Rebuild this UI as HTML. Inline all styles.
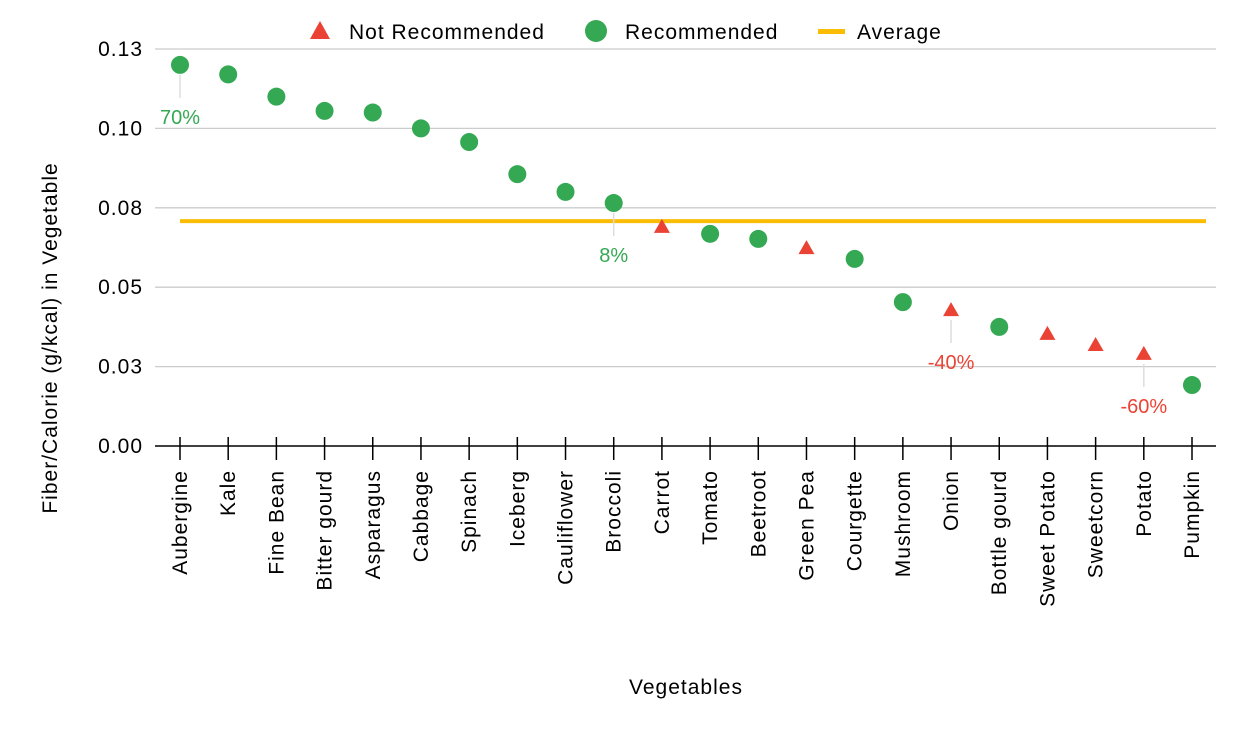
<!DOCTYPE html>
<html><head><meta charset="utf-8"><style>
html,body{margin:0;padding:0;background:#fff;}
svg{display:block;font-family:"Liberation Sans",Arial,sans-serif;}
.w{font-size:21px;letter-spacing:1px;}
</style></head><body>
<svg id="chart" width="1254" height="742" viewBox="0 0 1254 742">
<g id="grid"></g>
<g id="yticks"></g>
<g id="xaxis"></g>
<g id="avg"></g>
<g id="annots"></g>
<g id="marks"></g>
<text class="w" transform="translate(57,338) rotate(-90)" text-anchor="middle" fill="#000">Fiber/Calorie (g/kcal) in Vegetable</text>
<text class="w" x="686" y="694" text-anchor="middle" fill="#000">Vegetables</text>
<g>
 <g><polygon points="320,21 330,39 310,39" fill="#ea4335"/><text class="w" x="349" y="39">Not Recommended</text></g>
 <g><circle cx="596" cy="31" r="11" fill="#34a853"/><text class="w" x="625" y="39">Recommended</text></g>
 <g><rect x="818" y="29" width="27" height="5" fill="#fbbc04"/><text class="w" x="857" y="39">Average</text></g>
</g>
</svg>
<script>
const categories=["Aubergine","Kale","Fine Bean","Bitter gourd","Asparagus","Cabbage","Spinach","Iceberg","Cauliflower","Broccoli","Carrot","Tomato","Beetroot","Green Pea","Courgette","Mushroom","Onion","Bottle gourd","Sweet Potato","Sweetcorn","Potato","Pumpkin"];
const values=[0.120,0.117,0.110,0.1055,0.105,0.100,0.0957,0.0856,0.080,0.0765,0.069,0.0668,0.0652,0.0623,0.0589,0.0453,0.0428,0.0375,0.0353,0.0318,0.029,0.0192];
const recommended=[1,1,1,1,1,1,1,1,1,1,0,1,1,0,1,1,0,1,0,0,0,1];
const average=0.0708;
const yTicks=[0,0.025,0.05,0.075,0.1,0.125];
const yTickLabels=["0.00","0.03","0.05","0.08","0.10","0.13"];
const annotIdx=[0,9,16,20];
const annotLabels=["70%","8%","-40%","-60%"];

const NS="http://www.w3.org/2000/svg";
function mk(t,a,p,txt){const e=document.createElementNS(NS,t);for(const k in a)e.setAttribute(k,a[k]);if(txt!=null)e.textContent=txt;p.appendChild(e);return e;}
const L=155,R=1216,Y0=446,Ytop=49;
const y=v=>Y0-(v/0.125)*(Y0-Ytop);
const x=i=>180+i*(1192-180)/(categories.length-1);
const G=document.getElementById('grid'),YT=document.getElementById('yticks'),XA=document.getElementById('xaxis'),AV=document.getElementById('avg'),AN=document.getElementById('annots'),M=document.getElementById('marks');
yTicks.forEach((t,i)=>{
 if(t>0){const g=mk('line',{x1:L,x2:R,y1:y(t),y2:y(t),stroke:'#ccc','stroke-width':1.3},G);
 
 }
 const lb=mk('text',{x:143,y:y(t)+7,'text-anchor':'end',class:'w',fill:'#000'},YT,yTickLabels[i]);
 
 
});
const ax=mk('line',{x1:L,x2:R,y1:Y0,y2:Y0,stroke:'#000','stroke-width':1.5},XA);


categories.forEach((c,i)=>{
 const tk=mk('line',{x1:x(i),x2:x(i),y1:Y0-9,y2:Y0+14,stroke:'#000','stroke-width':1.5},XA);
 
 
 const lb=mk('text',{transform:`translate(${x(i)+7},470) rotate(-90)`,'text-anchor':'end',class:'w',fill:'#000'},XA,c);
 
 
});
const al=mk('line',{x1:x(0),x2:x(categories.length-1)+14,y1:y(average),y2:y(average),stroke:'#fbbc04','stroke-width':4},AV);


annotIdx.forEach((idx,k)=>{
 const col=recommended[idx]?'#34a853':'#ea4335';
 const py=y(values[idx]);
 const ln=mk('line',{x1:x(idx),x2:x(idx),y1:py+10,y2:py+33,stroke:'#ddd','stroke-width':1.5},AN);
 
 
 const t=mk('text',{x:x(idx),y:py+59,'text-anchor':'middle','font-size':20,fill:col},AN,annotLabels[k]);
 
 
});
categories.forEach((c,i)=>{
 const cx=x(i),cy=y(values[i]);let e;
 if(recommended[i]){e=mk('circle',{cx:cx,cy:cy,r:9,fill:'#34a853'},M);}
 else{e=mk('polygon',{points:`${cx},${cy-8} ${cx+8},${cy+6} ${cx-8},${cy+6}`,fill:'#ea4335'},M);}
 
 
});
</script>
</body></html>
